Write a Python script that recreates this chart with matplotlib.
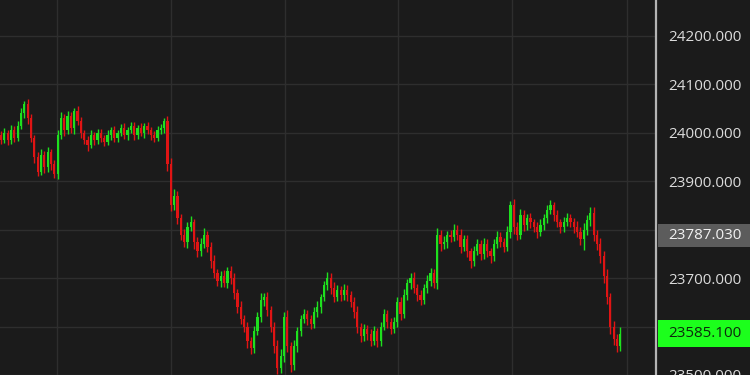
import numpy as np
import matplotlib
matplotlib.use('Agg')
import matplotlib.pyplot as plt
import matplotlib.transforms as mtransforms
from matplotlib.patches import Rectangle

# closing prices, one per bar; each bar opens at the previous close
closes = [
    23985, 24000, 23985, 24005, 23990, 24015, 24040, 24060, 24030, 23990,
    23950, 23920, 23955, 23930, 23960, 23935, 23915, 23995, 24030, 24005,
    24035, 24010, 24045, 24025, 24000, 23985, 23975, 23995, 23985, 24000,
    23990, 23980, 23995, 24005, 23990, 24000, 24010, 23995, 24005, 24015,
    23995, 24010, 24000, 24015, 24005, 23995, 23990, 24005, 24010, 24025,
    23935, 23850, 23870, 23825, 23790, 23775, 23805, 23815, 23775, 23755,
    23770, 23790, 23765, 23735, 23710, 23695, 23705, 23690, 23715, 23700,
    23670, 23640, 23615, 23600, 23570, 23555, 23590, 23620, 23655, 23660,
    23635, 23600, 23560, 23515, 23540, 23620, 23560, 23520, 23560, 23590,
    23615, 23625, 23615, 23605, 23630, 23640, 23660, 23685, 23700, 23680,
    23660, 23675, 23665, 23675, 23665, 23650, 23630, 23600, 23580, 23595,
    23585, 23570, 23590, 23570, 23600, 23625, 23610, 23595, 23610, 23650,
    23625, 23665, 23690, 23700, 23680, 23665, 23655, 23680, 23695, 23710,
    23690, 23790, 23770, 23775, 23790, 23785, 23800, 23790, 23765, 23780,
    23755, 23735, 23755, 23770, 23750, 23770, 23755, 23745, 23770, 23785,
    23775, 23765, 23795, 23850, 23805, 23790, 23830, 23810, 23825, 23815,
    23805, 23795, 23810, 23825, 23840, 23850, 23830, 23815, 23805, 23815,
    23825, 23815, 23805, 23795, 23780, 23800, 23820, 23835, 23790, 23770,
    23745, 23705, 23660, 23600, 23575, 23560, 23585,
]
first_open = 23995

# wick lengths above / below the body, in price points
upper_wick = [
    8, 10, 6, 12, 8, 10, 12, 6, 10, 8,
    6, 10, 12, 8, 10, 6, 8, 10, 12, 8,
    10, 8, 6, 10, 8, 6, 8, 10, 6, 8,
    8, 6, 10, 6, 8, 6, 8, 10, 6, 8,
    8, 6, 10, 6, 8, 6, 8, 10, 8, 6,
    10, 12, 14, 10, 8, 12, 10, 14, 8, 10,
    12, 14, 8, 10, 12, 8, 10, 12, 8, 10,
    10, 8, 12, 8, 10, 8, 12, 10, 14, 10,
    12, 8, 10, 12, 14, 10, 14, 8, 12, 10,
    8, 12, 10, 8, 10, 12, 8, 10, 12, 10,
    12, 10, 8, 12, 10, 8, 10, 12, 8, 10,
    8, 10, 12, 8, 10, 12, 10, 8, 10, 12,
    10, 12, 8, 10, 12, 8, 10, 8, 12, 10,
    8, 14, 10, 12, 8, 10, 12, 10, 12, 8,
    10, 8, 12, 10, 8, 12, 10, 8, 10, 12,
    10, 8, 12, 10, 14, 10, 12, 10, 8, 10,
    8, 10, 12, 8, 10, 12, 8, 10, 8, 12,
    10, 8, 10, 12, 10, 14, 10, 12, 12, 10,
    12, 10, 14, 10, 12, 10, 14,
]
lower_wick = [
    8, 6, 10, 8, 10, 6, 8, 10, 12, 10,
    12, 10, 8, 12, 10, 12, 8, 10, 8, 12,
    8, 10, 12, 8, 10, 8, 12, 6, 10, 8,
    10, 8, 6, 10, 8, 10, 6, 8, 10, 6,
    10, 8, 6, 10, 8, 10, 8, 6, 8, 10,
    14, 12, 10, 14, 12, 10, 12, 8, 14, 12,
    10, 8, 12, 14, 10, 12, 14, 8, 10, 12,
    14, 12, 10, 12, 14, 12, 10, 8, 10, 12,
    14, 12, 14, 12, 10, 14, 12, 14, 10, 12,
    10, 8, 12, 10, 8, 10, 12, 8, 10, 12,
    10, 8, 12, 10, 12, 10, 12, 14, 12, 10,
    12, 10, 8, 12, 10, 8, 12, 10, 8, 10,
    12, 8, 10, 12, 10, 12, 10, 8, 10, 12,
    10, 12, 14, 10, 12, 10, 8, 12, 14, 10,
    12, 14, 10, 8, 12, 10, 12, 14, 10, 8,
    10, 12, 10, 12, 14, 12, 10, 12, 10, 12,
    10, 12, 8, 10, 12, 8, 12, 10, 12, 10,
    8, 10, 12, 10, 12, 22, 10, 12, 14, 12,
    14, 16, 14, 16, 14, 12, 10,
]

price_ticks = [23500, 23600, 23700, 23800, 23900, 24000, 24100, 24200]
ref_price = 23787.03
last_price = 23585.10

bg = '#1b1b1b'
up_col = '#1ee01e'
down_col = '#e01414'

closes = np.array(closes, dtype=float)
opens = np.concatenate([[first_open], closes[:-1]])
x = np.arange(len(closes))
body_lo = np.minimum(opens, closes)
body_hi = np.maximum(opens, closes)
highs = body_hi + np.array(upper_wick)
lows = body_lo - np.array(lower_wick)
heights = np.maximum(body_hi - body_lo, 3)
colors = [up_col if c >= o else down_col for o, c in zip(opens, closes)]

fig = plt.figure(figsize=(7.5, 3.75), dpi=100, facecolor=bg)
ax = fig.add_axes([0, 0, 656 / 750, 1], facecolor=bg)

ax.vlines(x, lows, highs, colors=colors, linewidth=1.0, zorder=3)
ax.bar(x, heights, bottom=body_lo, width=0.66, color=colors, linewidth=0, zorder=4)

ax.set_xlim(-0.3, 196.7)
ax.set_ylim(23501.8, 24274.1)

# grid
ax.set_xticks([16.8, 51.0, 85.3, 119.3, 153.5, 188.0])
ax.set_xticklabels([])
ax.set_yticks(price_ticks)
ax.grid(True, color='#2e2e2e', linewidth=1.0, zorder=0)
ax.tick_params(axis='x', length=0)

ax.yaxis.tick_right()
ax.set_yticklabels([f'{p:.3f}' for p in price_ticks])
ax.tick_params(axis='y', length=0, pad=8.5, labelcolor='#dcdcdc', labelsize=11)
for lbl in ax.get_yticklabels():
    lbl.set_family('Open Sans')

for side in ['top', 'bottom', 'left']:
    ax.spines[side].set_visible(False)
ax.spines['right'].set_color('#b4b4b4')
ax.spines['right'].set_linewidth(1.6)

# price tags on the axis
trans = mtransforms.blended_transform_factory(ax.transAxes, ax.transData)
x_right = 750 / 656
for val, half_h, face, txt_col in [(ref_price, 23.7, '#5c5c5c', '#f2f2f2'),
                                   (last_price, 27.8, '#1cff1c', '#0d2a0d')]:
    ax.add_patch(Rectangle((1.003, val - half_h), x_right - 1.003, 2 * half_h,
                           transform=trans, facecolor=face, edgecolor='none',
                           clip_on=False, zorder=6))
    ax.text(668 / 656, val, f'{val:.3f}', transform=trans, ha='left', va='center',
            color=txt_col, fontsize=11, family='Open Sans', clip_on=False, zorder=7)

fig.savefig('out.png', dpi=100, facecolor=bg)
